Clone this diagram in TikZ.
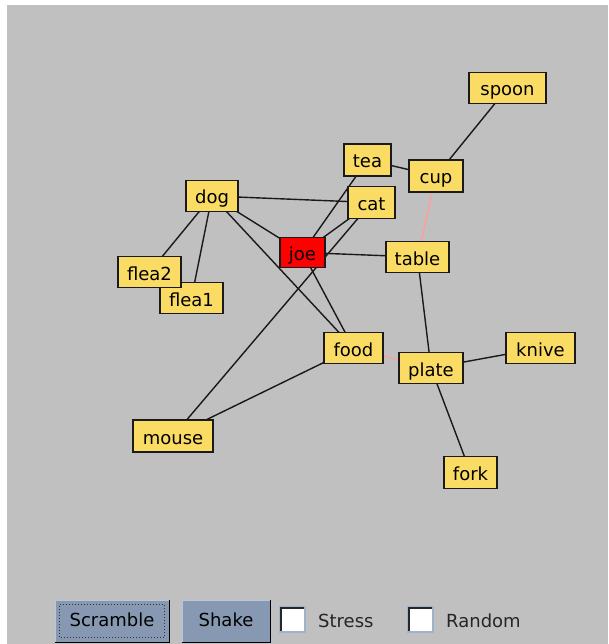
\documentclass[tikz,border=0pt]{standalone}
\usepackage{fontspec}
\setmainfont{DejaVu Sans}
\usetikzlibrary{backgrounds}
\definecolor{bg}{HTML}{C0C0C0}
\definecolor{nodefill}{HTML}{FADC64}
\definecolor{pinkedge}{HTML}{FF9E9E}
\definecolor{btn}{HTML}{8799B2}
\definecolor{btnlight}{HTML}{B8C6D8}
\definecolor{boxedge}{HTML}{9FB2CA}
\definecolor{nodeline}{HTML}{1A1A1A}
\begin{document}
\begin{tikzpicture}[x=1pt,y=-1pt,
  gnode/.style={draw=nodeline, line width=1.8pt, fill=nodefill, inner sep=0pt,
    text height=18pt, text depth=2pt, minimum height=31pt, font=\fontsize{18}{20}\selectfont},
  fixednode/.style={gnode, fill=red},
  edge/.style={draw=black!90, line width=1.4pt},
  pinkarc/.style={draw=pinkedge, line width=1.4pt},
  btnbox/.style={fill=btn, draw=btnlight, line width=0.8pt, inner sep=0pt, minimum height=42pt,
    text height=15pt, text depth=4pt, font=\fontsize{18}{20}\selectfont},
  chkbox/.style={fill=white, draw=boxedge, line width=1.2pt, minimum width=25pt, minimum height=25pt, inner sep=0pt},
  lbl/.style={inner sep=0pt, font=\fontsize{18}{20}\selectfont, text=black!85}
]
\useasboundingbox (0,0) rectangle (608,644);

% graph nodes
\node[gnode, minimum width=77pt] (spoon) at (507.5,88) {spoon};
\node[gnode, minimum width=47pt, minimum height=32pt] (tea) at (367.5,160) {tea};
\node[gnode, minimum width=54pt, minimum height=32pt] (cup) at (436,176) {cup};
\node[gnode, minimum width=52pt] (dog) at (212,196) {dog};
\node[gnode, minimum width=47pt, minimum height=32pt] (cat) at (371.5,202.5) {cat};
\node[fixednode, minimum width=45pt, minimum height=30pt] (joe) at (302.5,252.5) {joe};
\node[gnode, minimum width=63pt] (table) at (417.5,257) {table};
\node[gnode, minimum width=63pt] (flea1) at (191.5,298) {flea1};
\node[gnode, minimum width=63pt] (flea2) at (149.5,272) {flea2};
\node[gnode, minimum width=59pt] (food) at (353.5,348) {food};
\node[gnode, minimum width=69pt] (knive) at (540.5,348) {knive};
\node[gnode, minimum width=64pt] (plate) at (431,368) {plate};
\node[gnode, minimum width=80pt, minimum height=32pt] (mouse) at (173,436) {mouse};
\node[gnode, minimum width=53pt, minimum height=32pt] (fork) at (470.5,472.5) {fork};

% background and edges
\begin{scope}[on background layer]
  \fill[white] (0,0) rectangle (608,644);
  \fill[bg] (7,5) rectangle (608,644);
  \draw[edge] (joe.center) -- (food.center);
  \draw[edge] (joe.center) -- (dog.center);
  \draw[edge] (joe.center) -- (tea.center);
  \draw[edge] (joe.center) -- (cat.center);
  \draw[edge] (joe.center) -- (table.center);
  \draw[edge] (table.center) -- (plate.center);
  \draw[pinkarc] (plate.center) -- (food.center);
  \draw[edge] (food.center) -- (mouse.center);
  \draw[edge] (food.center) -- (dog.center);
  \draw[edge] (mouse.center) -- (cat.center);
  \draw[pinkarc] (table.center) -- (cup.center);
  \draw[edge] (cup.center) -- (tea.center);
  \draw[edge] (dog.center) -- (flea1.center);
  \draw[edge] (dog.center) -- (flea2.center);
  \draw[edge] (flea1.center) -- (flea2.center);
  \draw[edge] (plate.center) -- (knive.center);
  \draw[edge] (plate.center) -- (fork.center);
  \draw[edge] (cup.center) -- (spoon.center);
  \draw[edge] (dog.center) -- (cat.center);
\end{scope}

% controls
\node[btnbox, minimum width=114pt] (scramble) at (112,621) {Scramble};
\draw[black, line width=1.6pt] (scramble.south west) -- (scramble.south east) -- (scramble.north east);
\draw[black!80, dotted, line width=1pt] ([xshift=5pt,yshift=5pt]scramble.south west) rectangle ([xshift=-5pt,yshift=-5pt]scramble.north east);
\node[btnbox, minimum width=88pt] (shake) at (226,621) {Shake};
\draw[black, line width=1.6pt] (shake.south west) -- (shake.south east) -- (shake.north east);

\node[chkbox] (stressbox) at (292.5,619.5) {};
\draw[black!85, line width=2pt] ([xshift=2pt,yshift=2pt]stressbox.south west) -- ([xshift=2pt,yshift=-2pt]stressbox.north west) -- ([xshift=-2pt,yshift=-2pt]stressbox.north east);
\node[lbl, anchor=base west] (stresslbl) at (318,627) {Stress};

\node[chkbox] (randombox) at (420.5,619.5) {};
\draw[black!85, line width=2pt] ([xshift=2pt,yshift=2pt]randombox.south west) -- ([xshift=2pt,yshift=-2pt]randombox.north west) -- ([xshift=-2pt,yshift=-2pt]randombox.north east);
\node[lbl, anchor=base west] (randomlbl) at (446,627) {Random};
\end{tikzpicture}
\end{document}
